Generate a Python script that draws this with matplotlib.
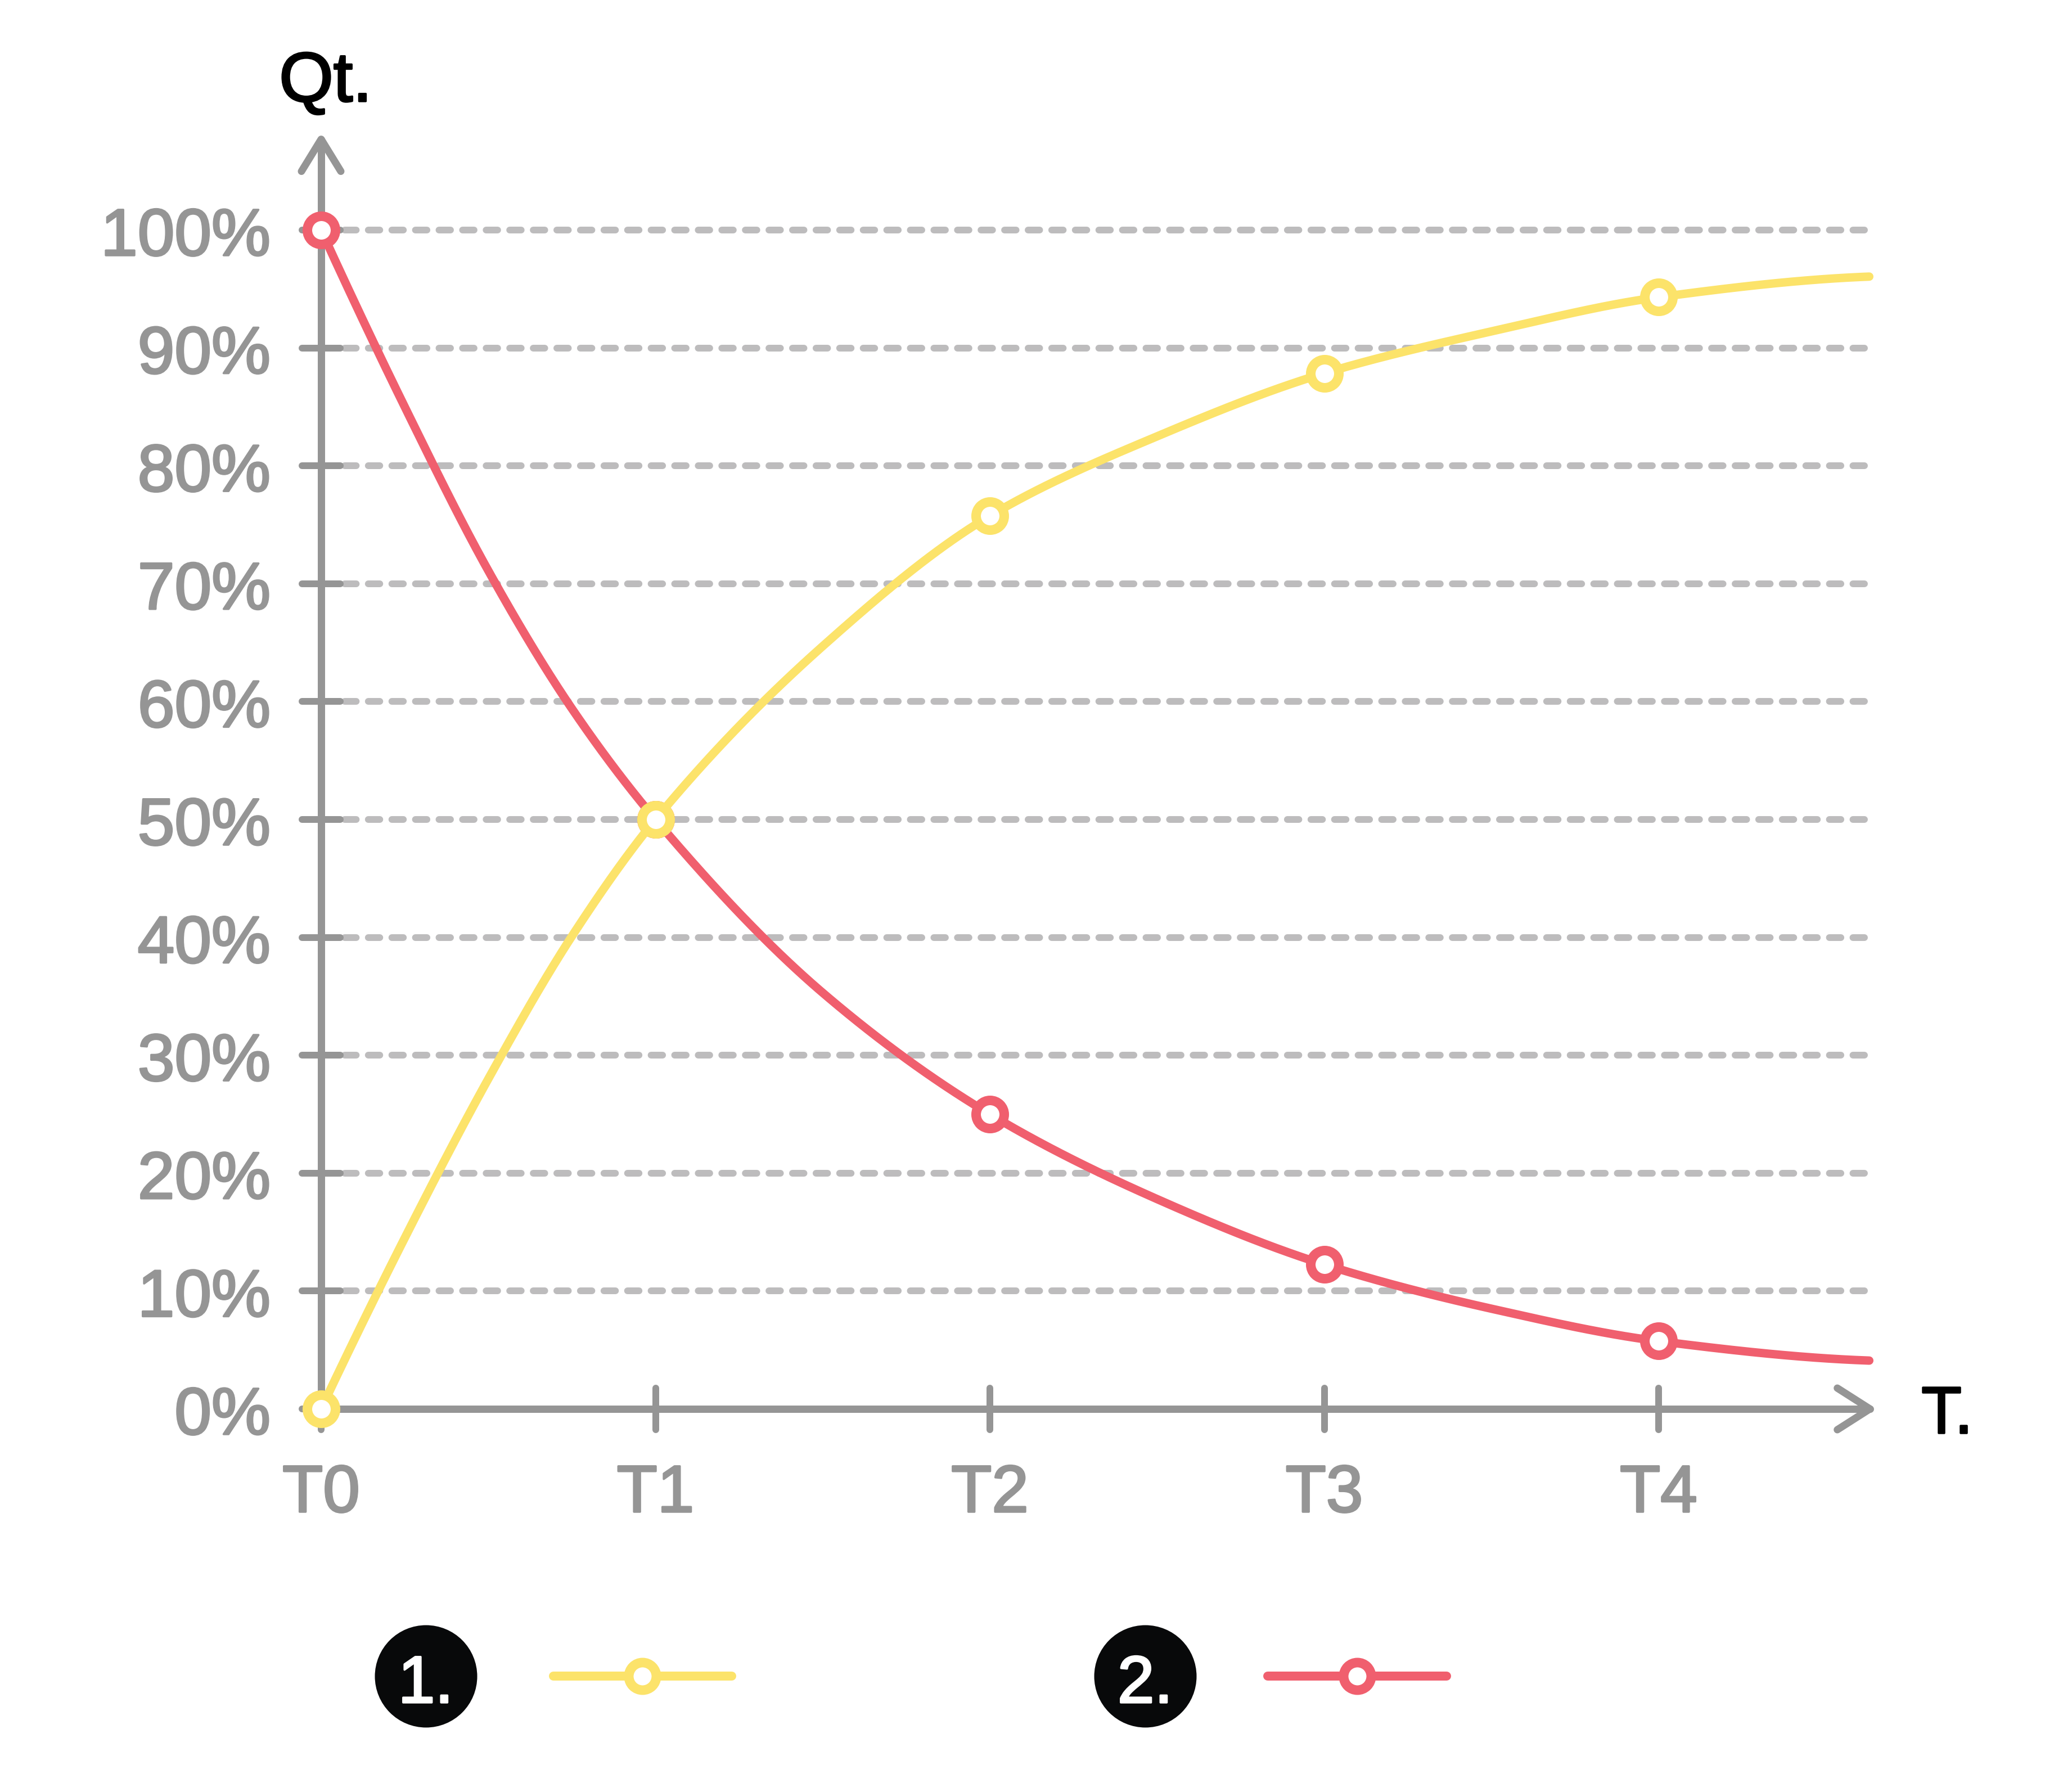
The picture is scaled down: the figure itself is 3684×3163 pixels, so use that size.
import numpy as np
import matplotlib
matplotlib.use("Agg")
import matplotlib.pyplot as plt
import matplotlib.patheffects as pe

# ---------------- data ----------------
time_labels = ["T0", "T1", "T2", "T3", "T4"]
marker_t = [0, 1, 2, 3, 4]
series1_markers = [0, 50, 75.75, 87.85, 94.3]      # yellow, "1."
series2_markers = [100, 50, 25, 12.25, 5.75]       # red, "2."
curve_t = [0, 0.25, 0.5, 0.75, 1, 1.5, 2, 2.5, 3, 3.5, 4, 4.63]
series1_curve = [0, 14.5, 28.0, 40.1, 50, 64.7, 75.75, 82.5, 87.85, 91.4, 94.3, 96.05]
series2_curve = [100, 85.0, 71.1, 59.4, 50, 35.3, 25, 17.8, 12.25, 8.5, 5.75, 4.1]
y_ticks = [0, 10, 20, 30, 40, 50, 60, 70, 80, 90, 100]
y_tick_labels = ["0%", "10%", "20%", "30%", "40%", "50%", "60%", "70%", "80%", "90%", "100%"]
legend_labels = ["1.", "2."]
y_axis_title = "Qt."
x_axis_title = "T."

# ---------------- style ----------------
YELLOW = "#FCE36A"
RED = "#F05F6E"
AXIS = "#959595"
GRID = "#BDBCBD"
BADGE = "#08090A"
FONT = ["Liberation Sans", "DejaVu Sans"]

W, H = 3684, 3163
PX_T0, PX_PER_T = 571.0, 594.5
PY_0, PX_PER_PCT = 2505.0, 20.96
X_END = 4.632
Y_END = 107.7


def px(p):  # pixel width -> points
    return p * 0.72


def dx(p):  # horizontal pixel -> data x
    return (p - PX_T0) / PX_PER_T


def dy(p):  # vertical pixel (from top) -> data y
    return (PY_0 - p) / PX_PER_PCT


def heavy(color):
    return [pe.withStroke(linewidth=px(3.5), foreground=color)]


def pchip(x, y, xs):
    x = np.asarray(x, float)
    y = np.asarray(y, float)
    h = np.diff(x)
    d = np.diff(y) / h
    n = len(x)
    m = np.zeros(n)
    for k in range(1, n - 1):
        if d[k - 1] * d[k] > 0:
            w1 = 2 * h[k] + h[k - 1]
            w2 = h[k] + 2 * h[k - 1]
            m[k] = (w1 + w2) / (w1 / d[k - 1] + w2 / d[k])

    def end(h0, h1, d0, d1):
        mm = ((2 * h0 + h1) * d0 - h0 * d1) / (h0 + h1)
        if np.sign(mm) != np.sign(d0):
            mm = 0.0
        elif np.sign(d0) != np.sign(d1) and abs(mm) > abs(3 * d0):
            mm = 3 * d0
        return mm

    m[0] = end(h[0], h[1], d[0], d[1])
    m[-1] = end(h[-1], h[-2], d[-1], d[-2])
    idx = np.clip(np.searchsorted(x, xs) - 1, 0, n - 2)
    t = (xs - x[idx]) / h[idx]
    h00 = 2 * t**3 - 3 * t**2 + 1
    h10 = t**3 - 2 * t**2 + t
    h01 = -2 * t**3 + 3 * t**2
    h11 = t**3 - t**2
    return h00 * y[idx] + h10 * h[idx] * m[idx] + h01 * y[idx + 1] + h11 * h[idx] * m[idx + 1]


fig = plt.figure(figsize=(W / 100, H / 100), dpi=100)
fig.patch.set_facecolor("white")
ax = fig.add_axes([0, 0, 1, 1])
ax.set_xlim(dx(0), dx(W))
ax.set_ylim(dy(H), dy(0))
ax.axis("off")

# grid lines
for v in y_ticks:
    ax.plot([0, X_END], [v, v], color=GRID, lw=px(12), solid_capstyle="round",
            dash_capstyle="round", linestyle=(0, (px(20.5) / px(12), px(21.4) / px(12))), zorder=1)

# y ticks
tick_half_x = 34 / PX_PER_T
for v in y_ticks:
    ax.plot([-tick_half_x, tick_half_x], [v, v], color=AXIS, lw=px(12),
            solid_capstyle="round", zorder=2)

# x ticks
tick_half_y = 37 / PX_PER_PCT
for t in marker_t:
    ax.plot([t, t], [-tick_half_y, tick_half_y], color=AXIS, lw=px(12),
            solid_capstyle="round", zorder=2)

# axes lines
ax.plot([0, X_END], [0, 0], color=AXIS, lw=px(13), solid_capstyle="round", zorder=3)
ax.plot([0, 0], [0, Y_END], color=AXIS, lw=px(13), solid_capstyle="round", zorder=3)
# arrow heads
ax.plot([X_END - 58 / PX_PER_T, X_END, X_END - 58 / PX_PER_T],
        [37 / PX_PER_PCT, 0, -37 / PX_PER_PCT], color=AXIS, lw=px(13),
        solid_capstyle="round", solid_joinstyle="round", zorder=3)
ax.plot([-35 / PX_PER_T, 0, 35 / PX_PER_T],
        [Y_END - 57 / PX_PER_PCT, Y_END, Y_END - 57 / PX_PER_PCT], color=AXIS, lw=px(13),
        solid_capstyle="round", solid_joinstyle="round", zorder=3)

# curves
ts = np.linspace(curve_t[0], curve_t[-1], 800)
ax.plot(ts, pchip(curve_t, series2_curve, ts), color=RED, lw=px(15),
        solid_capstyle="round", zorder=4)
ax.plot(marker_t, series2_markers, linestyle="none", marker="o", ms=px(50), mew=px(17),
        mec=RED, mfc="white", zorder=5)
ax.plot(ts, pchip(curve_t, series1_curve, ts), color=YELLOW, lw=px(15),
        solid_capstyle="round", zorder=6)
ax.plot(marker_t, series1_markers, linestyle="none", marker="o", ms=px(50), mew=px(17),
        mec=YELLOW, mfc="white", zorder=7)

# tick labels
FS = px(118)
for v, lab in zip(y_ticks, y_tick_labels):
    ax.text(dx(481), v - 45 / PX_PER_PCT, lab, ha="right", va="baseline", fontsize=FS,
            color=AXIS, family=FONT, path_effects=heavy(AXIS))
for t, lab in zip(marker_t, time_labels):
    ax.text(t, dy(2688), lab, ha="center", va="baseline", fontsize=FS,
            color=AXIS, family=FONT, path_effects=heavy(AXIS))

# axis titles
ax.text(dx(579), dy(180), y_axis_title, ha="center", va="baseline", fontsize=px(124),
        color="black", family=FONT, path_effects=heavy("black"))
ax.text(dx(3416), dy(2548), x_axis_title, ha="left", va="baseline", fontsize=FS,
        color="black", family=FONT, path_effects=heavy("black"))

# legend
legend_colors = [YELLOW, RED]
badge_x = [757, 2036]
line_x = [(984, 1301), (2254, 2572)]
marker_x = [1142, 2413]
ly = 2980
for lab, col, bx, (l0, l1), mx in zip(legend_labels, legend_colors, badge_x, line_x, marker_x):
    ax.plot([dx(bx)], [dy(ly)], marker="o", ms=px(182), mew=0, color=BADGE,
            linestyle="none", zorder=5)
    ax.text(dx(bx), dy(3027), lab, ha="center", va="baseline", fontsize=FS,
            color="white", family=FONT, zorder=6, path_effects=heavy("white"))
    ax.plot([dx(l0), dx(l1)], [dy(ly), dy(ly)], color=col, lw=px(16),
            solid_capstyle="round", zorder=5)
    ax.plot([dx(mx)], [dy(ly)], marker="o", ms=px(49), mew=px(17), mec=col,
            mfc="white", linestyle="none", zorder=6)

fig.savefig("out.png", dpi=100, facecolor="white")
